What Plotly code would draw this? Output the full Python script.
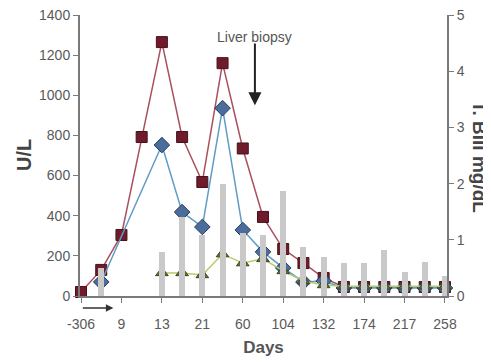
import plotly.graph_objects as go

# ---- data ----
x_pos = list(range(19))
tick_pos = [0, 2, 4, 6, 8, 10, 12, 14, 16, 18]
tick_labels = ["-306", "9", "13", "21", "60", "104", "132", "174", "217", "258"]

alt_ul = [20, 130, 304, 792, 1265, 792, 568, 1160, 735, 394, 234, 164, 90, 45, 45, 45, 45, 45, 45]
ast_ul = [None, 70, None, None, 752, 418, 344, 936, 329, 220, 140, 70, 75, 40, 40, 40, 40, 40, 40]
ggt_ul = [None, None, None, None, 115, 115, 105, 209, 164, 185, 125, 75, 55, 48, 48, 48, 48, 48, 48]
tbili = [0, 0.5, 0, 0, 0.78, 1.4, 1.08, 2.0, 1.12, 1.08, 1.87, 0.87, 0.7, 0.58, 0.58, 0.82, 0.43, 0.6, 0.35]

fig = go.Figure()

fig.add_trace(go.Bar(
    x=x_pos, y=tbili, yaxis="y2", width=0.3,
    marker=dict(color="#c9c9c9", line=dict(width=0)),
    showlegend=False,
))
fig.add_trace(go.Scatter(
    x=x_pos, y=alt_ul, mode="lines+markers",
    line=dict(color="#a8505e", width=1.5),
    marker=dict(symbol="square", size=11, color="#6e1c2c",
                line=dict(color="#4a1018", width=1)),
    cliponaxis=False, showlegend=False,
))
fig.add_trace(go.Scatter(
    x=x_pos, y=ast_ul, mode="lines+markers", connectgaps=True,
    line=dict(color="#5f9cc8", width=1.5),
    marker=dict(symbol="diamond", size=12, color="#4a6d9c",
                line=dict(color="#2a3c5a", width=1)),
    cliponaxis=False, showlegend=False,
))
fig.add_trace(go.Scatter(
    x=x_pos, y=ggt_ul, mode="lines+markers", connectgaps=True,
    line=dict(color="#b4cc66", width=1.5),
    marker=dict(symbol="triangle-up", size=11, color="#5f6d34",
                line=dict(color="#3a4520", width=1)),
    cliponaxis=False, showlegend=False,
))

FONT = "Liberation Sans, Arial, sans-serif"
axis_font = dict(family=FONT, size=14, color="#5a5a5a")

# the page body adds an 8px offset, so margins are shifted to compensate
L, R, T, B = 72, 52, 7, 75
PW = 491 - L - R

common = dict(showgrid=False, zeroline=False, showline=True, linecolor="#7a7a7a", linewidth=2,
              ticks="outside", ticklen=5, tickcolor="#7a7a7a", tickfont=axis_font,
              automargin=False, ticklabeloverflow="allow")

fig.update_layout(
    width=491, height=363,
    margin=dict(l=L, r=R, t=T, b=B),
    paper_bgcolor="white", plot_bgcolor="white",
    bargap=0,
    xaxis=dict(
        range=[-0.05, 18.1], tickmode="array", tickvals=tick_pos, ticktext=tick_labels,
        ticklabelstandoff=9,
        title=dict(text="<b>Days</b>", font=dict(family=FONT, size=17, color="#555555"), standoff=10),
        **common,
    ),
    yaxis=dict(
        range=[0, 1400], tickvals=[0, 200, 400, 600, 800, 1000, 1200, 1400],
        **common,
    ),
    yaxis2=dict(
        range=[0, 5], tickvals=[0, 1, 2, 3, 4, 5], overlaying="y", side="right",
        **common,
    ),
    annotations=[
        dict(text="Liver biopsy", x=8.6, y=1.0, xref="x", yref="paper",
             yanchor="bottom", yshift=-32, showarrow=False,
             font=dict(family=FONT, size=14, color="#555555")),
        dict(text="", x=8.6, y=950, xref="x", yref="y", ax=8.6, ay=1265,
             axref="x", ayref="y", showarrow=True, arrowhead=2, arrowsize=1.3,
             arrowwidth=2, arrowcolor="#222222"),
        dict(text="", x=1.6, y=-0.043, xref="x", yref="paper", ax=-32, ay=0,
             axref="pixel", ayref="pixel", showarrow=True, arrowhead=2, arrowsize=1,
             arrowwidth=1.5, arrowcolor="#333333"),
        dict(text="<b>U/L</b>", x=(16 - L) / PW, y=(296 - 155) / 281,
             xref="paper", yref="paper", xanchor="center", yanchor="middle",
             showarrow=False, textangle=-90,
             font=dict(family=FONT, size=20, color="#444444")),
        dict(text="<b>T. Bili mg/dL</b>", x=(471 - L) / PW, y=(296 - 157) / 281,
             xref="paper", yref="paper", xanchor="center", yanchor="middle",
             showarrow=False, textangle=90,
             font=dict(family=FONT, size=19, color="#444444")),
    ],
)

fig.write_html("out.html")
